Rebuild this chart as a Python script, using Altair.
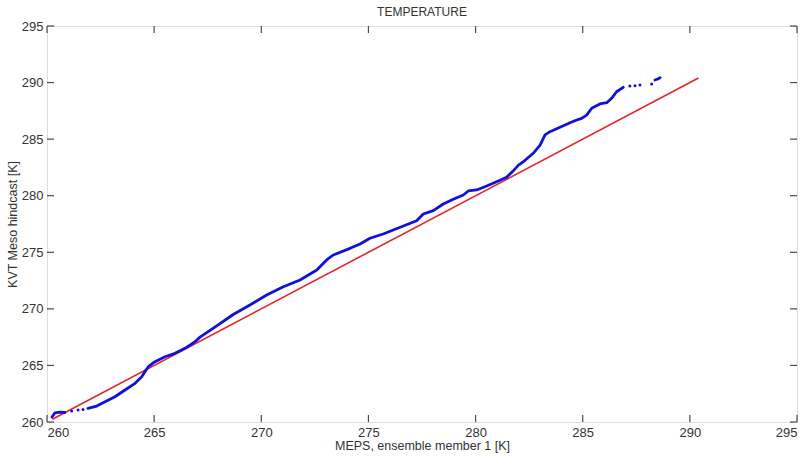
import altair as alt
import pandas as pd

# Axis ticks (both axes share the same range, K)
tick_values = [260, 265, 270, 275, 280, 285, 290, 295]

# Reference diagonal y = x
diag_x = [260.25, 290.4]
diag_y = [260.25, 290.4]

# Quantile-quantile pairs: MEPS member 1 (x) vs KVT Meso hindcast (y)
head_x = [260.23, 260.37, 260.61, 260.84]
head_y = [260.44, 260.80, 260.88, 260.84]

body_x = [261.91, 262.32, 262.71, 263.17, 263.64, 264.11, 264.42, 264.57, 264.73,
          265.04, 265.51, 265.97, 266.44, 266.91, 267.14, 267.92, 268.69, 269.47,
          270.25, 271.03, 271.81, 272.59, 273.05, 273.36, 274.14, 274.61, 275.07,
          275.69, 276.16, 276.63, 277.25, 277.56, 278.03, 278.49, 278.96, 279.43,
          279.66, 280.05, 280.52, 280.98, 281.45, 281.76, 282.00, 282.23, 282.69,
          283.01, 283.24, 283.47, 283.94, 284.41, 284.72, 284.95, 285.18, 285.42,
          285.80, 286.12, 286.35, 286.58, 286.89]
body_y = [261.21, 261.41, 261.79, 262.23, 262.83, 263.42, 264.00, 264.45, 264.89,
          265.33, 265.77, 266.07, 266.51, 267.10, 267.50, 268.49, 269.50, 270.34,
          271.22, 271.96, 272.55, 273.43, 274.32, 274.76, 275.35, 275.73, 276.24,
          276.62, 276.97, 277.32, 277.79, 278.38, 278.68, 279.27, 279.68, 280.06,
          280.42, 280.51, 280.86, 281.24, 281.63, 282.20, 282.70, 283.00, 283.75,
          284.48, 285.37, 285.66, 286.05, 286.45, 286.69, 286.84, 287.13, 287.73,
          288.11, 288.22, 288.61, 289.19, 289.58]

tail_x = [288.37, 288.50, 288.61]
tail_y = [290.23, 290.32, 290.43]

# Isolated sample points in the sparse extremes
loose_x = [261.15, 261.45, 261.68, 287.20, 287.44, 287.67, 288.22]
loose_y = [260.97, 261.06, 261.10, 289.70, 289.72, 289.78, 289.87]

FONT = "Liberation Sans"
TEXT = "#333333"
FRAME = "#4a4a4a"
BLUE = "#1010dd"
RED = "#e3262a"
W, H = 750, 396

line_df = pd.concat([
    pd.DataFrame({"x": head_x, "y": head_y, "seg": "head"}),
    pd.DataFrame({"x": body_x, "y": body_y, "seg": "body"}),
    pd.DataFrame({"x": tail_x, "y": tail_y, "seg": "tail"}),
], ignore_index=True)
loose_df = pd.DataFrame({"x": loose_x, "y": loose_y})
diag_df = pd.DataFrame({"x": diag_x, "y": diag_y})
tick_df = pd.DataFrame({"t": tick_values})

xs = alt.Scale(domain=[260, 295], nice=False, zero=False)
ys = alt.Scale(domain=[260, 295], nice=False, zero=False)

x_axis = alt.Axis(values=tick_values, format="d", ticks=False, tickSize=0, domain=False,
                  grid=False, labelPadding=4, labelFont=FONT, labelFontSize=13,
                  labelColor=TEXT, title="MEPS, ensemble member 1 [K]", titleFont=FONT,
                  titleFontSize=12.5, titleFontWeight="normal", titleColor=TEXT,
                  titlePadding=0)
y_axis = alt.Axis(values=tick_values, format="d", ticks=False, tickSize=0, domain=False,
                  grid=False, labelPadding=4, labelFont=FONT, labelFontSize=13,
                  labelColor=TEXT, title="KVT Meso hindcast [K]", titleFont=FONT,
                  titleFontSize=12.5, titleFontWeight="normal", titleColor=TEXT,
                  titlePadding=2)


def X(field):
    return alt.X(field, scale=xs, axis=x_axis)


def Y(field):
    return alt.Y(field, scale=ys, axis=y_axis)


diag = alt.Chart(diag_df).mark_line(color=RED, strokeWidth=1.6).encode(
    x=X("x:Q"), y=Y("y:Q"),
)

qq_line = alt.Chart(line_df).mark_line(color=BLUE, strokeWidth=2.8, strokeCap="round",
                                       strokeJoin="round").encode(
    x=X("x:Q"), y=Y("y:Q"), detail="seg:N", order="x:Q",
)

qq_dots = alt.Chart(loose_df).mark_point(color=BLUE, filled=True, opacity=1,
                                         shape="circle", size=9).encode(
    x=X("x:Q"), y=Y("y:Q"),
)

# Inward-pointing tick marks on all four sides of the box
tick_len = 7
tick_style = dict(color=FRAME, strokeWidth=1.2)
bottom_ticks = alt.Chart(tick_df).mark_rule(**tick_style).encode(
    x=X("t:Q"), y=alt.value(H), y2=alt.value(H - tick_len))
top_ticks = alt.Chart(tick_df).mark_rule(**tick_style).encode(
    x=X("t:Q"), y=alt.value(0), y2=alt.value(tick_len))
left_ticks = alt.Chart(tick_df).mark_rule(**tick_style).encode(
    y=Y("t:Q"), x=alt.value(0), x2=alt.value(tick_len))
right_ticks = alt.Chart(tick_df).mark_rule(**tick_style).encode(
    y=Y("t:Q"), x=alt.value(W), x2=alt.value(W - tick_len))

chart = alt.layer(
    diag, bottom_ticks, top_ticks, left_ticks, right_ticks, qq_line, qq_dots
).properties(
    width=W,
    height=H,
    autosize="none",
    padding={"left": 47, "top": 26, "right": 13, "bottom": 34},
    title=alt.TitleParams("TEMPERATURE", font=FONT, fontSize=12, fontWeight="normal",
                          color=TEXT, offset=1, anchor="middle"),
).configure_view(
    stroke=FRAME, strokeWidth=1.6
).configure(background="white")

chart.save("out.html", embed_options={"renderer": "svg", "actions": False})
